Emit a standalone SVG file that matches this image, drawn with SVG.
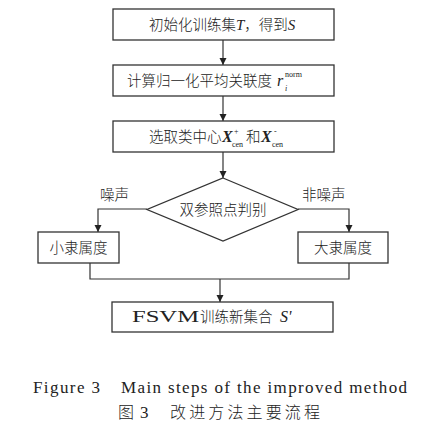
<svg xmlns="http://www.w3.org/2000/svg" width="430" height="433" viewBox="0 0 430 433">
<defs>
<marker id="ah" viewBox="0 0 10 10" refX="10" refY="5" markerWidth="7" markerHeight="9" markerUnits="userSpaceOnUse" orient="auto">
<path d="M0,0 L10,5 L0,10 Z" fill="#222"/>
</marker>
<style>
.box{fill:#fff;stroke:#333;stroke-width:1.3}
.ln{fill:none;stroke:#333;stroke-width:1.2}
.zh{font-family:"Noto Sans CJK SC","Liberation Serif",serif;font-size:14.5px;font-weight:300;fill:#222}
.it{font-family:"Liberation Serif",serif;font-style:italic;fill:#222}
.sm{font-family:"Liberation Serif",serif;font-size:8px;fill:#222}
.cap{font-family:"Liberation Serif",serif;font-size:17px;fill:#222}
.capzh{font-family:"Noto Sans CJK SC",serif;font-size:16px;font-weight:300;fill:#222}
</style>
</defs>
<rect width="430" height="433" fill="#fff"/>
<g id="connectors">
<line class="ln" x1="223" y1="40" x2="223" y2="65" marker-end="url(#ah)"/>
<line class="ln" x1="223" y1="96" x2="223" y2="121" marker-end="url(#ah)"/>
<line class="ln" x1="223" y1="152" x2="223" y2="178" marker-end="url(#ah)"/>
<polyline class="ln" points="147,209 98,209 98,232" marker-end="url(#ah)"/>
<polyline class="ln" points="298,209 349,209 349,232" marker-end="url(#ah)"/>
<polyline class="ln" points="90,263 90,279 349,279 349,263"/>
<line class="ln" x1="220" y1="279" x2="220" y2="302" marker-end="url(#ah)"/>
<text class="zh" x="100" y="200" font-size="14">噪声</text>
<text class="zh" x="302" y="200" font-size="14">非噪声</text>
</g>
<g id="n1">
<rect class="box" x="113" y="9" width="221" height="31"/>
<text class="zh" x="149" y="30">初始化训练集<tspan class="it" font-size="15">T</tspan>，得到<tspan class="it" font-size="15">S</tspan></text>
</g>
<g id="n2">
<rect class="box" x="113" y="65" width="221" height="31"/>
<text class="zh" x="127" y="86">计算归一化平均关联度</text>
<text class="it" x="277" y="86" font-size="16">r</text>
<text class="sm" x="285" y="77">norm</text>
<text class="sm" x="285" y="91" font-style="italic">i</text>
</g>
<g id="n3">
<rect class="box" x="113" y="121" width="221" height="31"/>
<text class="zh" x="149" y="142">选取类中心</text>
<text class="it" x="222" y="142" font-size="16" font-weight="bold">X</text>
<text class="sm" x="234" y="134" font-size="10">+</text>
<text class="sm" x="232" y="147">cen</text>
<text class="zh" x="246" y="142">和</text>
<text class="it" x="261" y="142" font-size="16" font-weight="bold">X</text>
<text class="sm" x="274" y="134" font-size="11">-</text>
<text class="sm" x="272" y="147">cen</text>
</g>
<g id="n4">
<polygon class="box" points="223,178 298,209.5 223,241 147,209.5"/>
<text class="zh" x="223" y="215" text-anchor="middle">双参照点判别</text>
</g>
<g id="n5">
<rect class="box" x="38" y="232" width="81" height="31"/>
<text class="zh" x="78.5" y="253" text-anchor="middle">小隶属度</text>
</g>
<g id="n6">
<rect class="box" x="298" y="232" width="90" height="31"/>
<text class="zh" x="343" y="253" text-anchor="middle">大隶属度</text>
</g>
<g id="n7">
<rect class="box" x="112" y="302" width="221" height="30"/>
<text x="132" y="322" font-family="Liberation Serif" font-size="16" fill="#222" textLength="67" lengthAdjust="spacingAndGlyphs">FSVM</text>
<text class="zh" x="200" y="322" font-size="16">训练新集合</text>
<text class="it" x="280" y="322" font-size="16">S'</text>
</g>
<g id="caption">
<text class="cap" x="33" y="393" textLength="67" lengthAdjust="spacing">Figure 3</text>
<text class="cap" x="121" y="393" textLength="286" lengthAdjust="spacing">Main steps of the improved method</text>
<text class="capzh" x="118" y="418">图</text>
<text class="cap" x="140" y="418">3</text>
<text class="capzh" x="170" y="418" textLength="150" lengthAdjust="spacing">改进方法主要流程</text>
</g>
</svg>
